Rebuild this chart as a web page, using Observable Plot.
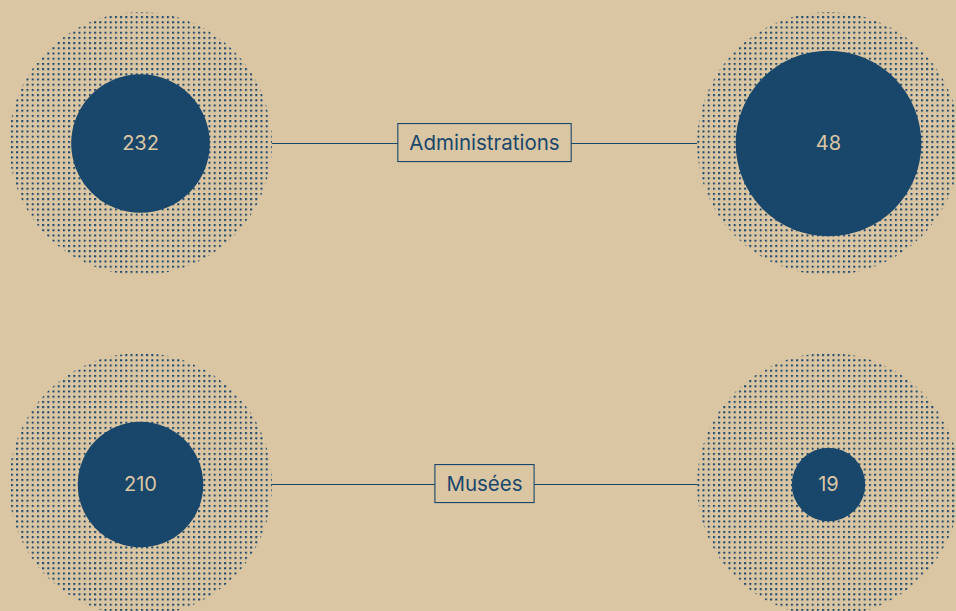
<!DOCTYPE html>
<html>
<head>
<meta charset="utf-8">
<script src="https://cdn.jsdelivr.net/npm/d3@7"></script>
<script src="https://cdn.jsdelivr.net/npm/@observablehq/plot@0.6"></script>
<style>
  html, body { margin: 0; padding: 0; background: #dbc6a3; }
  svg { display: block; }
</style>
</head>
<body>
<div id="chart"></div>
<script>
// ---- data ----
const categories = ["Administrations", "Musées"];
const leftValues = [232, 210];
const rightValues = [48, 19];
const columns = ["gauche", "centre", "droite"];
const leftMax = 440;   // valeur correspondant au cercle extérieur (gauche)
const rightMax = 68;   // valeur correspondant au cercle extérieur (droite)

const bg = "#dbc6a3";
const blue = "#19466b";
const beige = "#dcc7a4";

const rows = [];
categories.forEach((c, i) => {
  rows.push({cat: c, col: "gauche", value: leftValues[i], max: leftMax});
  rows.push({cat: c, col: "droite", value: rightValues[i], max: rightMax});
});

const svg = Plot.plot({
  width: 956,
  height: 611,
  marginLeft: 140,
  marginRight: 128,
  marginTop: 143,
  marginBottom: 127,
  x: {type: "point", domain: columns, axis: null, padding: 0},
  y: {type: "point", domain: categories, axis: null, padding: 0},
  r: {type: "linear", domain: [0, 1], range: [0, 131.5]},
  style: {background: bg, fontFamily: "Inter, sans-serif"},
  marks: [
    Plot.link(categories, {x1: () => "gauche", x2: () => "droite", y1: d => d, y2: d => d, stroke: blue, strokeWidth: 1.1}),
    Plot.dot(rows, {x: "col", y: "cat", r: () => 1, fill: bg, stroke: null}),
    Plot.dot(rows, {x: "col", y: "cat", r: () => 1, fill: "url(#dots)", stroke: null}),
    Plot.dot(rows, {x: "col", y: "cat", r: d => d.value / d.max, fill: blue, stroke: null}),
    Plot.text(rows, {x: "col", y: "cat", text: d => String(d.value), fill: beige, fontSize: 20}),
    Plot.text(categories, {x: () => "centre", y: d => d, text: d => d, fill: blue, fontSize: 20.5, className: "cat-label"})
  ]
});

document.getElementById("chart").appendChild(svg);

const s = d3.select(svg);
const pat = s.insert("defs", ":first-child")
  .append("pattern")
  .attr("id", "dots")
  .attr("patternUnits", "userSpaceOnUse")
  .attr("width", 5.2)
  .attr("height", 5.2);
pat.append("rect").attr("x", 0).attr("y", 0).attr("width", 2).attr("height", 2).attr("fill", blue);

// boxes behind category labels (measured from the rendered text)
const labelG = svg.querySelector("g.cat-label");
const boxG = d3.select(svg).insert("g", () => labelG);
const svgRect = svg.getBoundingClientRect();
labelG.querySelectorAll("text").forEach(t => {
  const b = t.getBoundingClientRect();
  const padX = 11.5;
  const h = 38;
  const cx = b.left - svgRect.left + b.width / 2;
  const cy = b.top - svgRect.top + b.height / 2;
  boxG.append("rect")
    .attr("x", cx - b.width / 2 - padX)
    .attr("y", cy - h / 2)
    .attr("width", b.width + 2 * padX)
    .attr("height", h)
    .attr("fill", bg)
    .attr("stroke", blue)
    .attr("stroke-width", 1.1);
});
</script>
</body>
</html>
